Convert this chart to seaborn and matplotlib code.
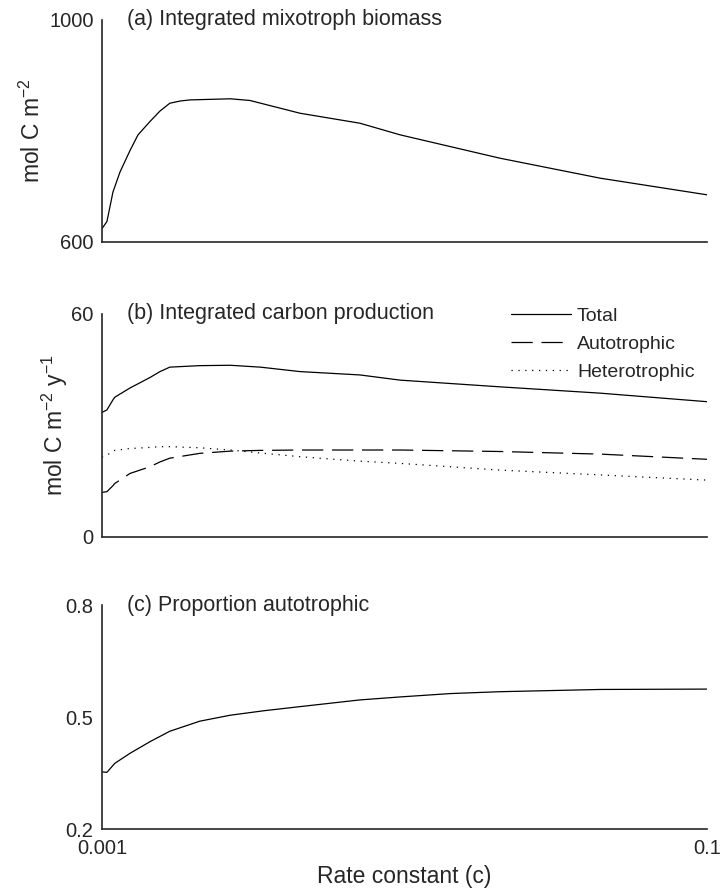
import numpy as np
import pandas as pd
import matplotlib
matplotlib.use('Agg')
import matplotlib.pyplot as plt
import seaborn as sns

# rate constant values
rate_a = [0.001, 0.00182, 0.0028, 0.00395, 0.0056, 0.0069, 0.00885, 0.0105, 0.0121, 0.0138,
          0.0154, 0.022, 0.0252, 0.0334, 0.0432, 0.0498, 0.0661, 0.0825, 0.1]
biomass = [624, 637, 690, 726, 765, 793, 817, 836, 850, 854, 856, 858, 855, 832, 814, 793, 751, 715, 685]

rate_b = [0.001, 0.00182, 0.0028, 0.0031, 0.0056, 0.00885, 0.0105, 0.0121, 0.017, 0.022, 0.0269,
          0.0334, 0.0432, 0.0498, 0.0661, 0.0825, 0.1]
total = [33.5, 34.2, 36.9, 37.6, 40.1, 42.9, 44.5, 45.7, 46.1, 46.2, 45.7, 44.5, 43.6, 42.2, 40.4, 38.7, 36.4]
autotrophic = [12.0, 12.2, 13.8, 14.4, 17.1, 18.9, 20.2, 21.2, 22.5, 23.1, 23.3, 23.4, 23.4, 23.4, 23.0, 22.3, 20.9]
heterotrophic = [21.5, 22.0, 23.1, 23.3, 23.8, 24.1, 24.3, 24.3, 24.0, 23.4, 22.6, 21.6, 20.4, 19.8, 18.0, 16.7, 15.3]

rate_c = [0.001, 0.00182, 0.0031, 0.0056, 0.00885, 0.0121, 0.017, 0.022, 0.0275, 0.0334, 0.0432,
          0.0498, 0.058, 0.0661, 0.0825, 0.1]
prop_auto = [0.353, 0.352, 0.376, 0.403, 0.434, 0.462, 0.489, 0.505, 0.517, 0.528, 0.546,
             0.554, 0.563, 0.568, 0.574, 0.575]

sns.set_style('white')
plt.rcParams['font.family'] = ['Liberation Sans', 'DejaVu Sans']
plt.rcParams['mathtext.fontset'] = 'custom'
plt.rcParams['mathtext.rm'] = 'Liberation Sans'
plt.rcParams['mathtext.it'] = 'Liberation Sans'

fig = plt.figure(figsize=(7.23, 8.92), dpi=100)
ax_a = fig.add_axes([0.141, 0.7287, 0.837, 0.2489])
ax_b = fig.add_axes([0.141, 0.398, 0.837, 0.25])
ax_c = fig.add_axes([0.141, 0.0706, 0.837, 0.251])

lw = 0.9
sns.lineplot(x=rate_a, y=biomass, ax=ax_a, color='black', lw=lw)

df_b = pd.DataFrame({'rate': rate_b * 3,
                     'value': total + autotrophic + heterotrophic,
                     'kind': ['Total'] * len(rate_b) + ['Autotrophic'] * len(rate_b) + ['Heterotrophic'] * len(rate_b)})
sns.lineplot(data=df_b, x='rate', y='value', style='kind', ax=ax_b, color='black', lw=lw,
             dashes={'Total': '', 'Autotrophic': (17, 7), 'Heterotrophic': (1, 4.5)})

sns.lineplot(x=rate_c, y=prop_auto, ax=ax_c, color='black', lw=lw)

tick_col = '#262626'
panels = [(ax_a, (600, 1000), [600, 1000], 'mol C m$^{-2}$', '(a) Integrated mixotroph biomass'),
          (ax_b, (0, 60), [0, 60], 'mol C m$^{-2}$ y$^{-1}$', '(b) Integrated carbon production'),
          (ax_c, (0.2, 0.8), [0.2, 0.5, 0.8], '', '(c) Proportion autotrophic')]
for ax, ylim, yt, ylab, title in panels:
    ax.set_xlim(0.001, 0.1)
    ax.set_ylim(*ylim)
    ax.set_yticks(yt)
    ax.set_xticks([0.001, 0.1])
    ax.set_ylabel(ylab, fontsize=16.5)
    ax.text(0.041, 1.0, title, transform=ax.transAxes, va='center', ha='left', fontsize=15.5)
    ax.tick_params(direction='in', length=5, width=1, labelsize=14.5, colors=tick_col, pad=6)
    ax.tick_params(axis='x', pad=7)
    for s in ['left', 'bottom']:
        ax.spines[s].set_color(tick_col)
        ax.spines[s].set_linewidth(1.2)
    sns.despine(ax=ax)
    ax.set_xlabel('')

ax_a.set_xticklabels([])
ax_b.set_xticklabels([])
ax_c.set_xticklabels(['0.001', '0.1'])
ax_c.set_yticklabels(['0.2', '0.5', '0.8'])
ax_c.set_xlabel('Rate constant (c)', fontsize=16.5, labelpad=5)
ax_a.yaxis.set_label_coords(-0.094, 0.5)
ax_b.yaxis.set_label_coords(-0.052, 0.5)

leg = ax_b.legend(loc='upper left', bbox_to_anchor=(0.647, 1.11), frameon=False,
                  handlelength=3.1, handletextpad=0.3, labelspacing=0.55, fontsize=14)
for line in leg.get_lines():
    line.set_linewidth(lw)

fig.savefig('out.png', dpi=100)
